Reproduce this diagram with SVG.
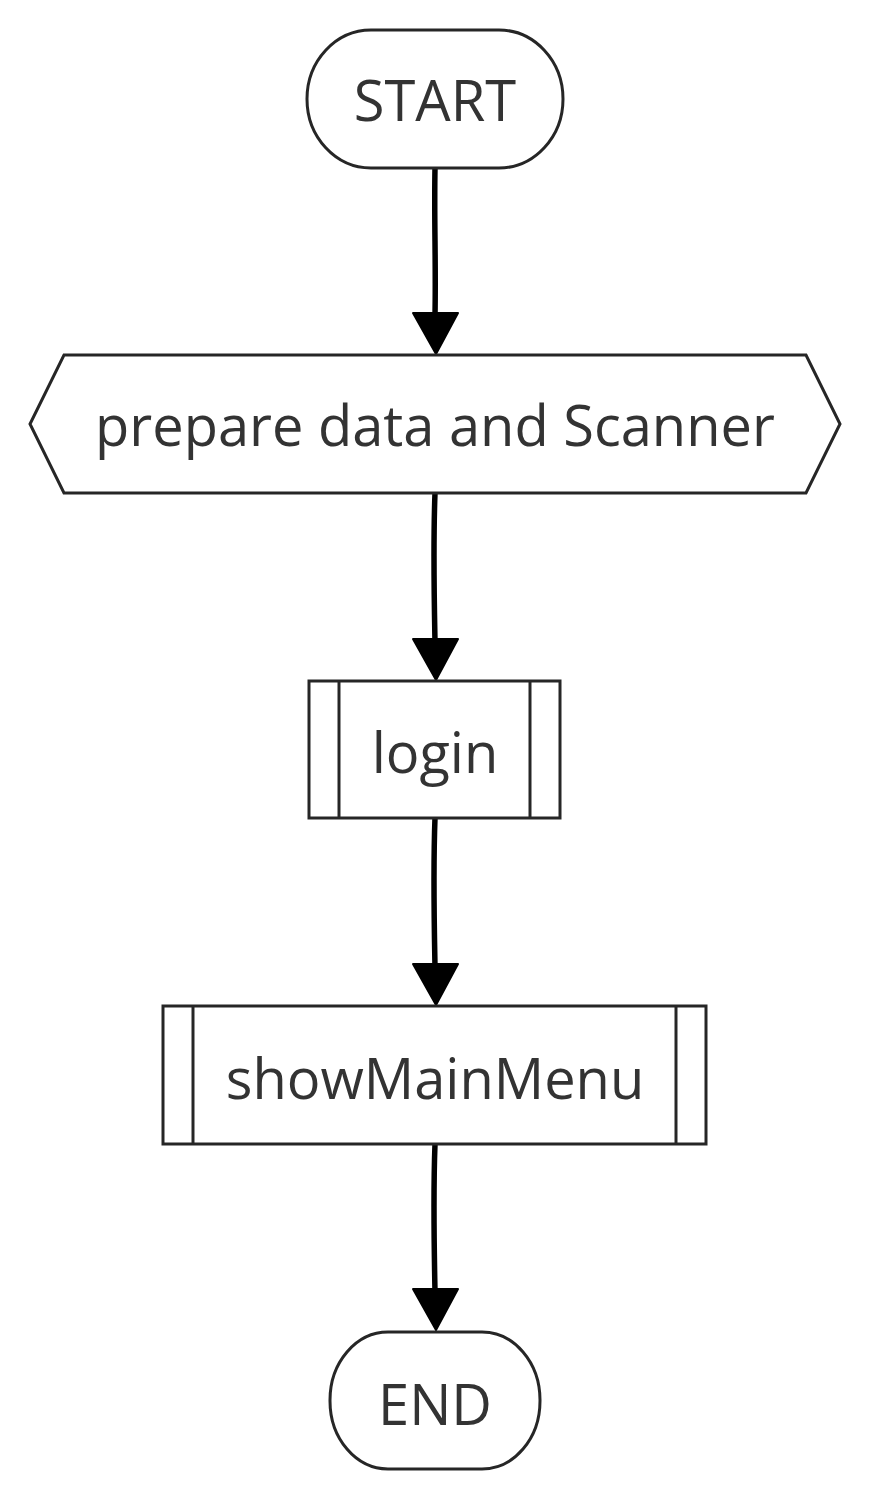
<svg xmlns="http://www.w3.org/2000/svg" width="870" height="1500" viewBox="0 0 870 1500">
<defs>
<style>
.shape{fill:#fff;stroke:#262626;stroke-width:3}
.lbl{font-family:"Open Sans","Noto Sans",sans-serif;font-size:56px;fill:#333;text-anchor:middle}
.edge{fill:none;stroke:#000;stroke-width:5.5;stroke-linecap:round}
.head{fill:#000;stroke:#000;stroke-width:2;stroke-linejoin:round}
</style>
</defs>
<rect width="870" height="1500" fill="#fff"/>
<g id="connectors">
<path class="edge" d="M435,168 C434,220 436,262 435,316"/>
<polygon class="head" points="413,313 458,313 436,354"/>
<path class="edge" d="M435,493 C433,545 434,590 435,642"/>
<polygon class="head" points="413,639 458,639 436,680"/>
<path class="edge" d="M435,818 C433,870 434,915 435,967"/>
<polygon class="head" points="413,964 458,964 436,1005"/>
<path class="edge" d="M435,1144 C433,1196 434,1240 435,1292"/>
<polygon class="head" points="413,1289 458,1289 436,1330"/>
</g>
<g id="start">
<rect class="shape" x="307" y="30" width="256" height="138" rx="64" ry="69"/>
<text class="lbl" x="435" y="121">START</text>
</g>
<g id="prepare">
<polygon class="shape" points="64,355 806,355 840,424 806,493 64,493 30,424"/>
<text class="lbl" x="435" y="446">prepare data and Scanner</text>
</g>
<g id="login">
<rect class="shape" x="309" y="681" width="251" height="137"/>
<line class="shape" x1="339" y1="681" x2="339" y2="818"/>
<line class="shape" x1="530" y1="681" x2="530" y2="818"/>
<text class="lbl" x="435" y="773">login</text>
</g>
<g id="showMainMenu">
<rect class="shape" x="163" y="1006" width="543" height="138"/>
<line class="shape" x1="193" y1="1006" x2="193" y2="1144"/>
<line class="shape" x1="676" y1="1006" x2="676" y2="1144"/>
<text class="lbl" x="435" y="1099">showMainMenu</text>
</g>
<g id="end">
<rect class="shape" x="330" y="1332" width="210" height="137" rx="58" ry="68"/>
<text class="lbl" x="435" y="1425">END</text>
</g>
</svg>
